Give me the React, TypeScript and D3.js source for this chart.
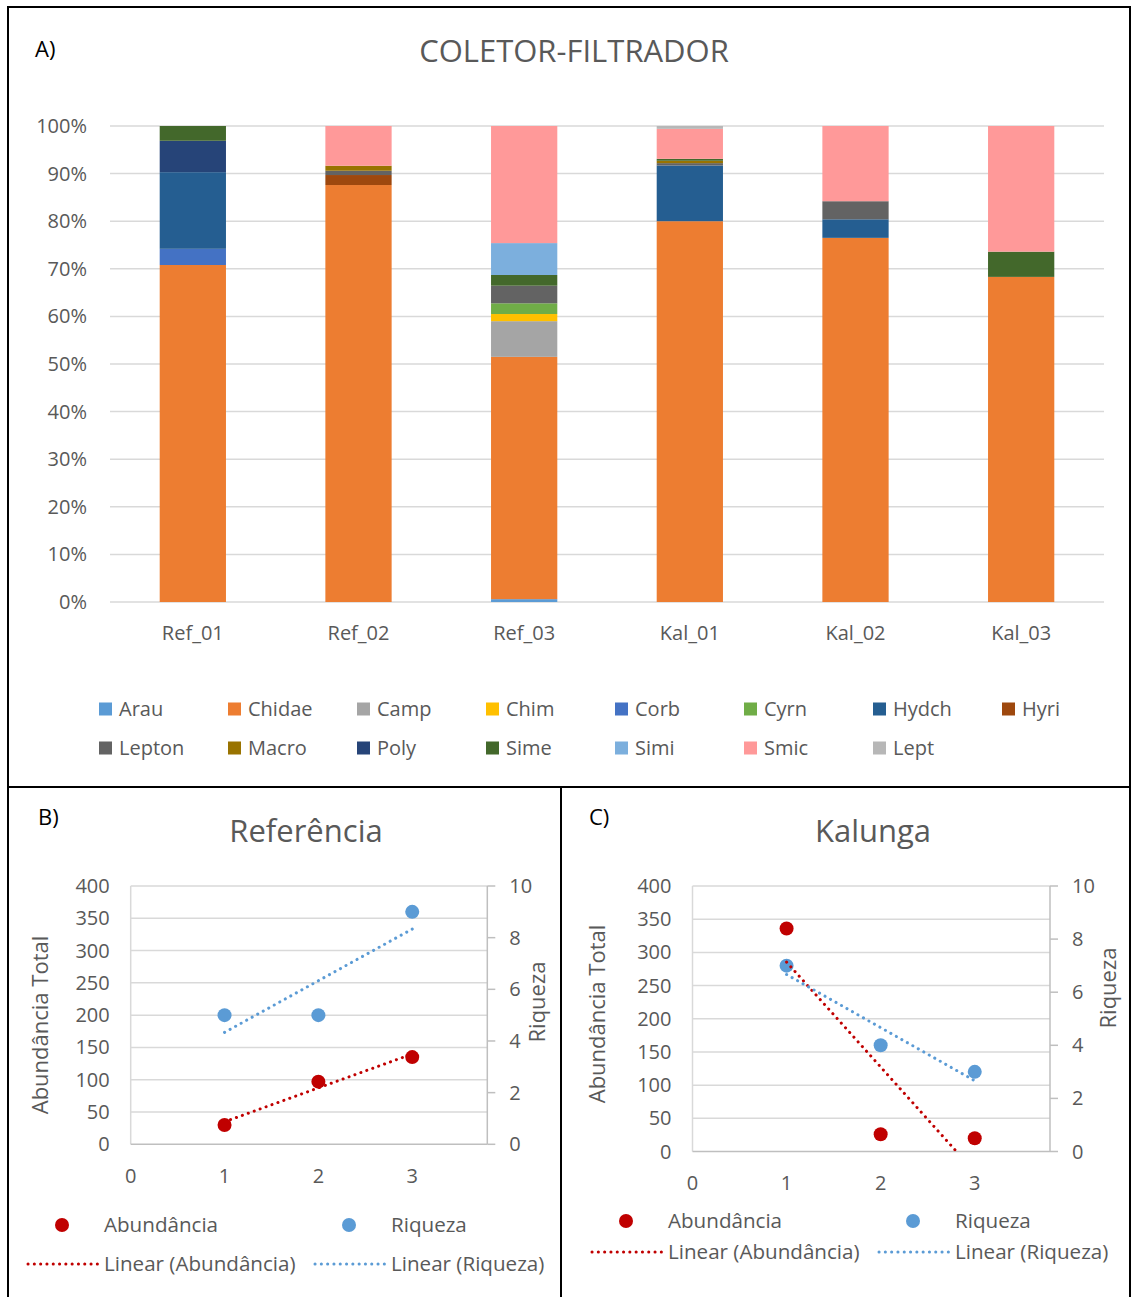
import React from "react";
import * as d3 from "d3";

// site names and taxa (stack order = legend order)
const sites = ["Ref_01", "Ref_02", "Ref_03", "Kal_01", "Kal_02", "Kal_03"];
const taxa = ["Arau", "Chidae", "Camp", "Chim", "Corb", "Cyrn", "Hydch", "Hyri", "Lepton", "Macro", "Poly", "Sime", "Simi", "Smic", "Lept"];
const taxaColors = ["#5B9BD5", "#ED7D31", "#A5A5A5", "#FFC000", "#4472C4", "#70AD47", "#255E91", "#9E480E", "#636363", "#997300", "#264478", "#43682B", "#7CAFDD", "#FF9999", "#B7B7B7"];

// percent per site, one array per taxon
const arau = [0, 0, 0.6, 0, 0, 0];
const chidae = [70.8, 87.6, 50.9, 80.0, 76.5, 68.3];
const camp = [0, 0, 7.5, 0, 0, 0];
const chim = [0, 0, 1.5, 0, 0, 0];
const corb = [3.4, 0, 0, 0, 0, 0];
const cyrn = [0, 0, 2.25, 0, 0, 0];
const hydch = [16.1, 0, 0, 11.7, 3.9, 0];
const hyri = [0, 2.1, 0, 0, 0, 0];
const lepton = [0, 0.9, 3.7, 0.5, 3.8, 0];
const macro = [0, 1.05, 0, 0.5, 0, 0];
const poly = [6.6, 0, 0, 0, 0, 0];
const sime = [3.1, 0, 2.25, 0.4, 0, 5.3];
const simi = [0, 0, 6.7, 0, 0, 0];
const smic = [0, 8.35, 24.6, 6.3, 15.8, 26.4];
const lept = [0, 0, 0, 0.6, 0, 0];
const taxaValues = [arau, chidae, camp, chim, corb, cyrn, hydch, hyri, lepton, macro, poly, sime, simi, smic, lept];

const pctTicks = [0, 10, 20, 30, 40, 50, 60, 70, 80, 90, 100];

// scatter panels
const sampleX = [1, 2, 3];
const refAbund = [30, 97, 135];
const refRiq = [5, 5, 9];
const kalAbund = [336, 26, 20];
const kalRiq = [7, 4, 3];
const abundTicks = [0, 50, 100, 150, 200, 250, 300, 350, 400];
const riqTicks = [0, 2, 4, 6, 8, 10];
const xTicks = [0, 1, 2, 3];

const RED = "#C00000";
const BLUE = "#5B9BD5";
const TXT = "#595959";
const GRID = "#D9D9D9";
const FONT = "'Open Sans', Lato, sans-serif";
const FS = 20;

// least squares line, like Excel's linear trendline
const fit = (xs: number[], ys: number[]) => {
  const mx = d3.mean(xs)!;
  const my = d3.mean(ys)!;
  const slope = d3.sum(xs, (x, i) => (x - mx) * (ys[i] - my)) / d3.sum(xs, (x) => (x - mx) ** 2);
  return (x: number) => my + slope * (x - mx);
};

const StackedChart = () => {
  const x = d3.scaleBand().domain(sites).range([110, 1104]).paddingInner(0.6).paddingOuter(0.3);
  const y = d3.scaleLinear().domain([0, 100]).range([602, 126]);
  const rows = sites.map((s, i) => {
    const r: any = { site: s };
    taxa.forEach((t, k) => (r[t] = taxaValues[k][i]));
    return r;
  });
  const series = d3.stack().keys(taxa)(rows);
  const color = d3.scaleOrdinal<string>().domain(taxa).range(taxaColors);

  return (
    <g fontFamily={FONT}>
      <text x={35} y={57} fontSize={22} fill="#000">A)</text>
      <text x={574} y={62} fontSize={31} fill={TXT} textAnchor="middle">COLETOR-FILTRADOR</text>
      {pctTicks.map((t) => (
        <g key={t}>
          <line x1={110} x2={1104} y1={y(t)} y2={y(t)} stroke={GRID} strokeWidth={1.5} />
          <text x={87} y={y(t)} dy="0.35em" textAnchor="end" fontSize={FS} fill={TXT}>{t}%</text>
        </g>
      ))}
      {series.map((s) => (
        <g key={s.key} fill={color(s.key)}>
          {s.map((d, i) => (d[1] - d[0] > 0 ? (
            <rect key={i} x={x(sites[i])} width={x.bandwidth()} y={y(d[1])} height={y(d[0]) - y(d[1])} />
          ) : null))}
        </g>
      ))}
      {sites.map((s) => (
        <text key={s} x={x(s)! + x.bandwidth() / 2} y={640} textAnchor="middle" fontSize={FS} fill={TXT}>{s}</text>
      ))}
      {taxa.map((t, i) => {
        const col = i < 8 ? i : i - 8;
        const row = i < 8 ? 0 : 1;
        const lx = 99 + col * 129;
        const ly = row === 0 ? 709 : 748;
        return (
          <g key={t}>
            <rect x={lx} y={ly - 6.5} width={13} height={13} fill={color(t)} />
            <text x={lx + 20} y={ly} dy="0.35em" fontSize={FS} fill={TXT}>{t}</text>
          </g>
        );
      })}
    </g>
  );
};

type PanelProps = {
  label: string;
  title: string;
  labelX: number;
  titleX: number;
  left: number;
  right: number;
  top: number;
  bottom: number;
  abund: number[];
  riq: number[];
  yTitleX: number;
  yTitleY: number;
  rTitleX: number;
  rTitleY: number;
  xLabelY: number;
  legX: number;
  legY1: number;
  legY2: number;
  clipId: string;
};

const dotted = { strokeWidth: 3, strokeDasharray: "0.1 6.2", strokeLinecap: "round" as const, fill: "none" };
const LFS = 20.6;

const ScatterPanel = (p: PanelProps) => {
  const x = d3.scaleLinear().domain([0, 3.8]).range([p.left, p.right]);
  const yA = d3.scaleLinear().domain([0, 400]).range([p.bottom, p.top]);
  const yR = d3.scaleLinear().domain([0, 10]).range([p.bottom, p.top]);
  const fA = fit(sampleX, p.abund);
  const fR = fit(sampleX, p.riq);
  const lineA = d3.line<number>().x((d) => x(d)).y((d) => yA(fA(d)));
  const lineR = d3.line<number>().x((d) => x(d)).y((d) => yR(fR(d)));
  const ends = [sampleX[0], sampleX[sampleX.length - 1]];
  return (
    <g fontFamily={FONT}>
      <defs>
        <clipPath id={p.clipId}>
          <rect x={p.left} y={p.top - 10} width={p.right - p.left} height={p.bottom - p.top + 10} />
        </clipPath>
        <clipPath id={p.clipId + "l"}>
          <rect x={p.left} y={p.top} width={p.right - p.left} height={p.bottom - p.top} />
        </clipPath>
      </defs>
      <text x={p.labelX} y={825} fontSize={22} fill="#000">{p.label}</text>
      <text x={p.titleX} y={842} fontSize={31} fill={TXT} textAnchor="middle">{p.title}</text>
      {abundTicks.map((t) => (
        <g key={t}>
          {t > 0 && <line x1={p.left} x2={p.right} y1={yA(t)} y2={yA(t)} stroke={GRID} strokeWidth={1.5} />}
          <text x={p.left - 21} y={yA(t)} dy="0.35em" textAnchor="end" fontSize={FS} fill={TXT}>{t}</text>
        </g>
      ))}
      <line x1={p.left} x2={p.left} y1={p.top} y2={p.bottom} stroke={GRID} strokeWidth={1.5} />
      <line x1={p.right} x2={p.right} y1={p.top} y2={p.bottom} stroke="#BFBFBF" strokeWidth={1.5} />
      <line x1={p.left} x2={p.right} y1={p.bottom} y2={p.bottom} stroke="#BFBFBF" strokeWidth={1.5} />
      {riqTicks.map((t) => (
        <g key={t}>
          <line x1={p.right} x2={p.right + 8} y1={yR(t)} y2={yR(t)} stroke="#BFBFBF" strokeWidth={1.5} />
          <text x={p.right + 22} y={yR(t)} dy="0.35em" fontSize={FS} fill={TXT}>{t}</text>
        </g>
      ))}
      {xTicks.map((t) => (
        <text key={t} x={x(t)} y={p.xLabelY} dy="0.35em" textAnchor="middle" fontSize={FS} fill={TXT}>{t}</text>
      ))}
      <text transform={`translate(${p.yTitleX},${p.yTitleY}) rotate(-90)`} textAnchor="middle" fontSize={22} fill={TXT} dy="0.35em">Abundância Total</text>
      <text transform={`translate(${p.rTitleX},${p.rTitleY}) rotate(-90)`} textAnchor="middle" fontSize={22} fill={TXT} dy="0.35em">Riqueza</text>
      <g clipPath={`url(#${p.clipId})`}>
        {sampleX.map((v, i) => (
          <circle key={"a" + i} cx={x(v)} cy={yA(p.abund[i])} r={7} fill={RED} />
        ))}
        {sampleX.map((v, i) => (
          <circle key={"r" + i} cx={x(v)} cy={yR(p.riq[i])} r={7} fill={BLUE} />
        ))}
      </g>
      <g clipPath={`url(#${p.clipId}l)`}>
        <path d={lineA(ends)!} stroke={RED} {...dotted} />
        <path d={lineR(ends)!} stroke={BLUE} {...dotted} />
      </g>
      {/* legend */}
      <circle cx={p.legX + 34} cy={p.legY1} r={7} fill={RED} />
      <text x={p.legX + 76} y={p.legY1} dy="0.35em" fontSize={LFS} fill={TXT}>Abundância</text>
      <circle cx={p.legX + 321} cy={p.legY1} r={7} fill={BLUE} />
      <text x={p.legX + 363} y={p.legY1} dy="0.35em" fontSize={LFS} fill={TXT}>Riqueza</text>
      <line x1={p.legX} x2={p.legX + 70} y1={p.legY2} y2={p.legY2} stroke={RED} {...dotted} />
      <text x={p.legX + 76} y={p.legY2} dy="0.35em" fontSize={LFS} fill={TXT}>Linear (Abundância)</text>
      <line x1={p.legX + 287} x2={p.legX + 357} y1={p.legY2} y2={p.legY2} stroke={BLUE} {...dotted} />
      <text x={p.legX + 363} y={p.legY2} dy="0.35em" fontSize={LFS} fill={TXT}>Linear (Riqueza)</text>
    </g>
  );
};

export default function App() {
  return (
    <svg width={1132} height={1297} style={{ position: "absolute", left: 0, top: 0, background: "#fff" }}>
      <rect x={0} y={0} width={1132} height={1297} fill="#fff" />
      <StackedChart />
      <ScatterPanel
        label="B)" title="Referência" labelX={38} titleX={306}
        left={130.7} right={487.3} top={886} bottom={1144.3}
        abund={refAbund} riq={refRiq}
        yTitleX={40} yTitleY={1025} rTitleX={537} rTitleY={1002} xLabelY={1176}
        legX={28} legY1={1225} legY2={1264} clipId="clipB"
      />
      <ScatterPanel
        label="C)" title="Kalunga" labelX={589} titleX={873}
        left={692.5} right={1050} top={886} bottom={1151.5}
        abund={kalAbund} riq={kalRiq}
        yTitleX={597} yTitleY={1014} rTitleX={1108} rTitleY={988} xLabelY={1183}
        legX={592} legY1={1221} legY2={1252} clipId="clipC"
      />
      {/* panel frame */}
      <g stroke="#000" strokeWidth={2} fill="none">
        <rect x={8} y={7} width={1122} height={1295} />
        <line x1={8} x2={1130} y1={787} y2={787} />
        <line x1={561} x2={561} y1={787} y2={1297} />
      </g>
    </svg>
  );
}
